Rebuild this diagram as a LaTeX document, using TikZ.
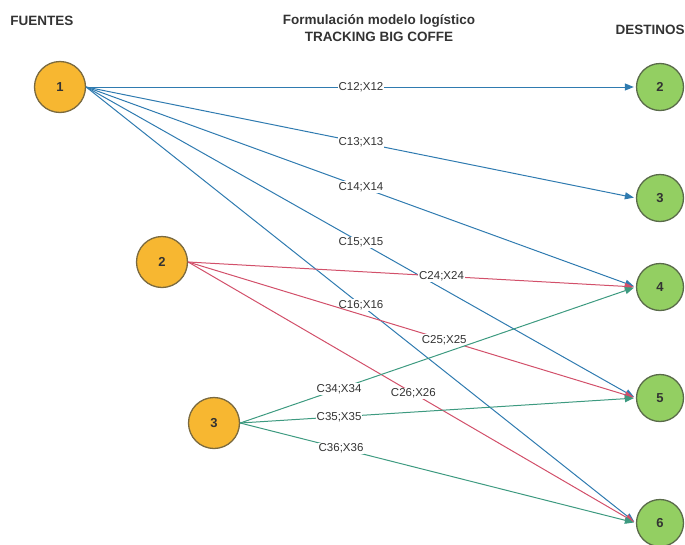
\documentclass[tikz,border=0pt]{standalone}
\usepackage{fontspec}
\setmainfont{Liberation Sans}
\usetikzlibrary{arrows.meta}
\definecolor{srcfill}{HTML}{F7B731}
\definecolor{srcline}{HTML}{7A6A40}
\definecolor{dstfill}{HTML}{93CF62}
\definecolor{dstline}{HTML}{5A6B4A}
\definecolor{flowA}{HTML}{2F7BB0}
\definecolor{flowB}{HTML}{D2506A}
\definecolor{flowC}{HTML}{3D9A80}
\definecolor{ink}{HTML}{333333}
\tikzset{
  source/.style={circle, draw=srcline, line width=1.3pt, fill=srcfill,
    minimum size=51pt, inner sep=0pt, font=\fontsize{13}{13}\selectfont\bfseries, text=ink},
  sink/.style={circle, draw=dstline, line width=1.3pt, fill=dstfill,
    minimum size=47pt, inner sep=0pt, font=\fontsize{13}{13}\selectfont\bfseries, text=ink},
  heading/.style={font=\fontsize{13.5}{16.5}\selectfont\bfseries, text=ink, align=center},
  flow/.style={line width=1pt, -{Triangle[length=9pt,width=7pt]}, shorten >=2pt},
  cost/.style={fill=white, inner sep=1pt, text=ink, font=\fontsize{11.5}{11.5}\selectfont},
}
\begin{document}
\begin{tikzpicture}[x=1pt,y=-1pt]
\useasboundingbox (0,0) rectangle (685,544);

% headings
\node[heading] (hsrc) at (42,21) {FUENTES};
\node[heading] (htitle) at (379,28) {Formulación modelo logístico\\TRACKING BIG COFFE};
\node[heading, anchor=west] (hdst) at (612,30) {DESTINOS};

% sources
\node[source] (s1) at (60,87) {1};
\node[source] (s2) at (162,262) {2};
\node[source] (s3) at (214,423) {3};

% destinations
\node[sink] (d2) at (660,87) {2};
\node[sink] (d3) at (660,198) {3};
\node[sink] (d4) at (660,287) {4};
\node[sink] (d5) at (660,398) {5};
\node[sink] (d6) at (660,523) {6};

% flows from source 1
\draw[flow, flowA] (s1.east) -- node[cost, pos=0.5] (l12) {C12;X12} (d2.west);
\draw[flow, flowA] (s1.east) -- node[cost, pos=0.5] (l13) {C13;X13} (d3.west);
\draw[flow, flowA] (s1.east) -- node[cost, pos=0.5] (l14) {C14;X14} (d4.west);
\draw[flow, flowA] (s1.east) -- node[cost, pos=0.5] (l15) {C15;X15} (d5.west);
\draw[flow, flowA] (s1.east) -- node[cost, pos=0.5] (l16) {C16;X16} (d6.west);

% flows from source 2
\draw[flow, flowB] (s2.east) -- node[cost, pos=0.566] (l24) {C24;X24} (d4.west);
\draw[flow, flowB] (s2.east) -- node[cost, pos=0.572] (l25) {C25;X25} (d5.west);
\draw[flow, flowB] (s2.east) -- node[cost, pos=0.503] (l26) {C26;X26} (d6.west);

% flows from source 3
\draw[flow, flowC] (s3.east) -- node[cost, pos=0.25] (l34) {C34;X34} (d4.west);
\draw[flow, flowC] (s3.east) -- node[cost, pos=0.25] (l35) {C35;X35} (d5.west);
\draw[flow, flowC] (s3.east) -- node[cost, pos=0.255] (l36) {C36;X36} (d6.west);
\end{tikzpicture}
\end{document}
